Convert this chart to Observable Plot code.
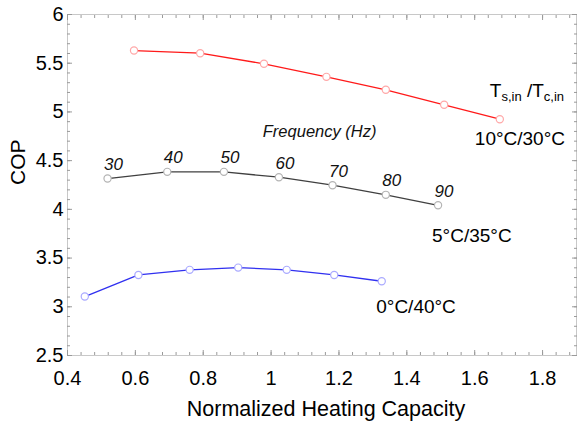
<!DOCTYPE html>
<html>
<head>
<meta charset="utf-8">
<script src="https://cdn.jsdelivr.net/npm/d3@7"></script>
<script src="https://cdn.jsdelivr.net/npm/@observablehq/plot@0.6"></script>
<style>
  html, body { margin: 0; padding: 0; background: #fff; }
  #chart { width: 577px; height: 425px; overflow: hidden; }
</style>
</head>
<body>
<div id="chart"></div>
<script>
// ---- data ----
const capRed   = [0.596, 0.791, 0.979, 1.163, 1.338, 1.510, 1.674];
const copRed   = [5.630, 5.603, 5.494, 5.360, 5.227, 5.073, 4.925];
const capBlack = [0.518, 0.694, 0.861, 1.023, 1.181, 1.338, 1.492];
const copBlack = [4.316, 4.385, 4.385, 4.330, 4.248, 4.149, 4.042];
const capBlue  = [0.451, 0.609, 0.760, 0.903, 1.046, 1.186, 1.326];
const copBlue  = [3.105, 3.327, 3.379, 3.402, 3.379, 3.327, 3.262];
const freqs    = [30, 40, 50, 60, 70, 80, 90];
const seriesNames = ["10°C/30°C", "5°C/35°C", "0°C/40°C"];
const xMajor = [0.4, 0.6, 0.8, 1.0, 1.2, 1.4, 1.6, 1.8];
const yMajor = [2.5, 3, 3.5, 4, 4.5, 5, 5.5, 6];
const xLabel = "Normalized Heating Capacity";
const yLabel = "COP";
const freqTitle = "Frequency (Hz)";
const condTitle = "Ts,in /Tc,in";
const freqTitlePos = {x: 1.143, y: 4.80};

// ---- build ----
const mk = (xs, ys, name) => xs.map((x, i) => ({x, y: ys[i], name, i}));
const red = mk(capRed, copRed, seriesNames[0]);
const black = mk(capBlack, copBlack, seriesNames[1]).map((d, i) => ({...d, f: freqs[i]}));
const blue = mk(capBlue, copBlue, seriesNames[2]);

const xMinor = d3.range(0, 38).map(i => +(0.4 + i * 0.04).toFixed(2)).filter(v => v <= 1.9);
const yMinor = d3.range(0, 36).map(i => +(2.5 + i * 0.1).toFixed(2)).filter(v => v <= 6);
const fmt = d => `${+(+d).toFixed(2)}`;
const FONT = "'Liberation Sans', Arial, Helvetica, sans-serif";
const tickColor = "#9a9a9a";

const plot = Plot.plot({
  width: 577,
  height: 425,
  marginLeft: 67,
  marginRight: 1,
  marginTop: 14,
  marginBottom: 70,
  style: {fontFamily: FONT, background: "#fff", color: "#000", overflow: "visible"},
  x: {domain: [0.4, 1.9]},
  y: {domain: [2.5, 6]},
  marks: [
    Plot.frame({stroke: "#c8c8c8"}),
    // minor ticks
    Plot.axisX(xMinor, {anchor: "bottom", tickSize: -3, tickFormat: () => "", label: null, stroke: tickColor}),
    Plot.axisX(xMinor, {anchor: "top", tickSize: -3, tickFormat: () => "", label: null, stroke: tickColor}),
    Plot.axisY(yMinor, {anchor: "left", tickSize: -3, tickFormat: () => "", label: null, stroke: tickColor}),
    Plot.axisY(yMinor, {anchor: "right", tickSize: -3, tickFormat: () => "", label: null, stroke: tickColor}),
    // major ticks + labels
    Plot.axisX(xMajor, {anchor: "bottom", tickSize: -5, tickPadding: 20, tickFormat: fmt, label: null, fontSize: 20, stroke: tickColor, fill: "#000"}),
    Plot.axisX(xMajor, {anchor: "top", tickSize: -5, tickFormat: () => "", label: null, stroke: tickColor}),
    Plot.axisY(yMajor, {anchor: "left", tickSize: -5, tickPadding: 9, tickFormat: fmt, label: null, fontSize: 20, stroke: tickColor, fill: "#000"}),
    Plot.axisY(yMajor, {anchor: "right", tickSize: -5, tickFormat: () => "", label: null, stroke: tickColor}),
    // axis titles
    Plot.text([xLabel], {frameAnchor: "bottom", text: d => d, dy: 54, dx: 4, fontSize: 21.5, lineAnchor: "middle", fill: "#000"}),
    Plot.text([yLabel], {frameAnchor: "left", text: d => d, dx: -49, rotate: -90, fontSize: 21, lineAnchor: "middle", fill: "#000"}),
    // series lines
    Plot.line(red, {x: "x", y: "y", stroke: "#ff1a1a", strokeWidth: 1.3}),
    Plot.line(black, {x: "x", y: "y", stroke: "#404040", strokeWidth: 1.3}),
    Plot.line(blue, {x: "x", y: "y", stroke: "#3030f0", strokeWidth: 1.3}),
    Plot.dot(red, {x: "x", y: "y", r: 3.6, fill: "#fff", stroke: "#ffa8a8", strokeWidth: 1.2}),
    Plot.dot(black, {x: "x", y: "y", r: 3.6, fill: "#fff", stroke: "#b4b4b4", strokeWidth: 1.2}),
    Plot.dot(blue, {x: "x", y: "y", r: 3.6, fill: "#fff", stroke: "#aaaaff", strokeWidth: 1.2}),
    // frequency labels
    Plot.text(black, {x: "x", y: "y", text: d => String(d.f), dx: 6, dy: -14, fontSize: 17, fontStyle: "italic", fill: "#111"}),
    Plot.text([freqTitlePos], {x: "x", y: "y", text: () => freqTitle, fontSize: 16.5, fontStyle: "italic", fill: "#111"}),
    // series condition labels (anchored at last point of each series)
    Plot.text([red[red.length - 1]], {x: "x", y: "y", text: "name", textAnchor: "start", dx: -25, dy: 20, fontSize: 19, fill: "#000"}),
    Plot.text([black[black.length - 1]], {x: "x", y: "y", text: "name", textAnchor: "start", dx: -6, dy: 31, fontSize: 19, fill: "#000"}),
    Plot.text([blue[blue.length - 1]], {x: "x", y: "y", text: "name", textAnchor: "start", dx: -5.5, dy: 26, fontSize: 19, fill: "#000"}),
    Plot.text([red[red.length - 1]], {x: "x", y: "y", text: () => condTitle, textAnchor: "start", dx: -10, dy: -28, fontSize: 19, fill: "#000"})
  ]
});
document.getElementById("chart").appendChild(plot);

// subscripts for condition title
d3.select(plot).selectAll("text").filter(function() { return this.textContent === condTitle; }).each(function() {
  const t = d3.select(this);
  t.text(null);
  t.append("tspan").text("T");
  t.append("tspan").style("font-size", "13px").attr("dy", 4).text("s,in");
  t.append("tspan").attr("dy", -4).text(" /T");
  t.append("tspan").style("font-size", "13px").attr("dy", 4).text("c,in");
});
</script>
</body>
</html>
